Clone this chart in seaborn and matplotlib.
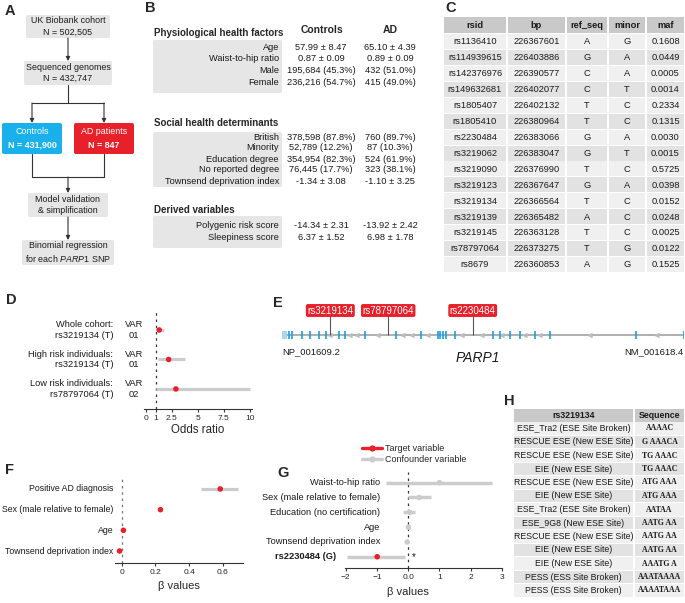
import matplotlib.pyplot as plt
import seaborn as sns
import numpy as np
import pandas as pd
from matplotlib.patches import FancyBboxPatch, Rectangle
from matplotlib.lines import Line2D

# ---------------- data ----------------
# A: cohort flow
flow_names = ['UK Biobank cohort', 'Sequenced genomes', 'Controls', 'AD patients']
flow_n = ['502,505', '432,747', '431,900', '847']
flow_steps = ['Model validation\n& simplification',
              'Binomial regression\nfor each $\\it{PARP1}$ SNP']

# B: cohort characteristics
b_sections = ['Physiological health factors', 'Social health determinants', 'Derived variables']
b_vars = [['Age', 'Waist-to-hip ratio', 'Male', 'Female'],
          ['British', 'Minority', 'Education degree', 'No reported degree',
           'Townsend deprivation index'],
          ['Polygenic risk score', 'Sleepiness score']]
b_controls = [['57.99 ± 8.47', '0.87 ± 0.09', '195,684 (45.3%)', '236,216 (54.7%)'],
              ['378,598 (87.8%)', '52,789 (12.2%)', '354,954 (82.3%)', '76,445 (17.7%)',
               '-1.34 ± 3.08'],
              ['-14.34 ± 2.31', '6.37 ± 1.52']]
b_ad = [['65.10 ± 4.39', '0.89 ± 0.09', '432 (51.0%)', '415 (49.0%)'],
        ['760 (89.7%)', '87 (10.3%)', '524 (61.9%)', '323 (38.1%)', '-1.10 ± 3.25'],
        ['-13.92 ± 2.42', '6.98 ± 1.78']]

# C: PARP1 SNPs
snp_cols = ['rsid', 'bp', 'ref_seq', 'minor', 'maf']
snp_rsid = ['rs1136410', 'rs114939615', 'rs142376976', 'rs149632681', 'rs1805407',
            'rs1805410', 'rs2230484', 'rs3219062', 'rs3219090', 'rs3219123',
            'rs3219134', 'rs3219139', 'rs3219145', 'rs78797064', 'rs8679']
snp_bp = [226367601, 226403886, 226390577, 226402077, 226402132,
          226380964, 226383066, 226383047, 226376990, 226367647,
          226366564, 226365482, 226363128, 226373275, 226360853]
snp_ref = ['A', 'G', 'C', 'C', 'T', 'T', 'G', 'G', 'T', 'G', 'T', 'A', 'T', 'T', 'A']
snp_minor = ['G', 'A', 'A', 'T', 'C', 'C', 'A', 'T', 'C', 'A', 'C', 'C', 'C', 'G', 'G']
snp_maf = ['0.1608', '0.0449', '0.0005', '0.0014', '0.2334', '0.1315', '0.0030', '0.0015',
           '0.5725', '0.0398', '0.0152', '0.0248', '0.0025', '0.0122', '0.1525']

# D: odds ratios
d_groups = ['Whole cohort:\nrs3219134 (T)', 'High risk individuals:\nrs3219134 (T)',
            'Low risk individuals:\nrs78797064 (T)']
d_var = ['VAR\n01', 'VAR\n01', 'VAR\n02']
d_or = [1.3, 2.2, 2.9]
d_lo = [1.05, 1.2, 1.0]
d_hi = [1.8, 3.8, 10.0]

# E: PARP1 gene model (genomic bp)
gene_start, gene_end = 226360961, 226407558
utr_end = 226361541
exons = [226361738, 226362121, 226363281, 226364174, 226365218, 226366100, 226367538,
         226368304, 226370554, 226374220, 226377120, 226379057, 226379324, 226379637,
         226379985, 226381064, 226385437, 226386214, 226387374, 226388534, 226390274,
         226391968, 226401944, 226407558]
strand_marks = [226366761, 226369081, 226369858, 226372364, 226375264, 226376238,
                226378164, 226382037, 226384357, 226386677, 226389381, 226391121,
                226396921, 226404658]
e_snps = ['rs3219134', 'rs78797064', 'rs2230484']

# F: beta values
f_vars = ['Positive AD diagnosis', 'Sex (male relative to female)', 'Age',
          'Townsend deprivation index']
f_beta = [0.585, 0.23, 0.01, -0.013]
f_lo = [0.47, 0.22, 0.004, -0.019]
f_hi = [0.69, 0.24, 0.016, -0.007]

# G: beta values
g_vars = ['Waist-to-hip ratio', 'Sex (male relative to female)', 'Education (no certification)',
          'Age', 'Townsend deprivation index', 'rs2230484 (G)']
g_beta = [1.0, 0.35, 0.05, 0.01, -0.03, -0.99]
g_lo = [-0.71, 0.0, -0.16, -0.03, -0.07, -1.95]
g_hi = [2.68, 0.72, 0.23, 0.05, 0.01, -0.1]
g_role = ['Confounder variable'] * 5 + ['Target variable']

# H: splice motifs
h_motif = ['ESE_Tra2 (ESE Site Broken)', 'RESCUE ESE (New ESE Site)', 'RESCUE ESE (New ESE Site)',
           'EIE (New ESE Site)', 'RESCUE ESE (New ESE Site)', 'EIE (New ESE Site)',
           'ESE_Tra2 (ESE Site Broken)', 'ESE_9G8 (New ESE Site)', 'RESCUE ESE (New ESE Site)',
           'EIE (New ESE Site)', 'EIE (New ESE Site)', 'PESS (ESS Site Broken)',
           'PESS (ESS Site Broken)']
h_seq = ['AAAAC', 'G AAACA', 'TG AAAC', 'TG AAAC', 'ATG AAA', 'ATG AAA', 'AATAA',
         'AATG AA', 'AATG AA', 'AATG AA', 'AAATG A', 'AAATAAAA', 'AAAATAAA']

# ---------------- style ----------------
RED = '#e8202a'
BLUE = '#1ab0ec'
EXON = '#1ba1e2'
GREY_BOX = '#e6e6e6'
CI = '#cccccc'
LINE = '#333333'
TXT = '#1a1a1a'

sns.set_style('white')
plt.rcParams['font.family'] = ['Liberation Sans', 'DejaVu Sans']
plt.rcParams['mathtext.fontset'] = 'custom'
plt.rcParams['mathtext.rm'] = 'Liberation Sans'
plt.rcParams['mathtext.it'] = 'Liberation Sans:italic'
plt.rcParams['mathtext.bf'] = 'Liberation Sans:bold'

W, H = 685, 603
fig = plt.figure(figsize=(W / 100, H / 100), dpi=100)
ax0 = fig.add_axes([0, 0, 1, 1])
ax0.set_xlim(0, W)
ax0.set_ylim(H, 0)
ax0.axis('off')


def px_axes(x0, y0, x1, y1):
    return fig.add_axes([x0 / W, 1 - y1 / H, (x1 - x0) / W, (y1 - y0) / H])


def rbox(x0, y0, x1, y1, fc, r=2.0):
    ax0.add_patch(FancyBboxPatch((x0, y0), x1 - x0, y1 - y0,
                                 boxstyle=f'round,pad=0,rounding_size={r}',
                                 fc=fc, ec='none', zorder=1))


def arrow(x, y0, y1):
    ax0.annotate('', xy=(x, y1), xytext=(x, y0),
                 arrowprops=dict(arrowstyle='-|>', color=LINE, lw=0.8,
                                 mutation_scale=6, shrinkA=0, shrinkB=0))


for lab, x, y in [('A', 5, 15), ('B', 145, 12), ('C', 445, 12), ('D', 6, 304),
                  ('E', 273, 307), ('F', 5, 474), ('G', 277, 477), ('H', 504, 405)]:
    ax0.text(x, y, lab, fontsize=10.5, fontweight='bold', va='baseline', ha='left')

# ---------------- A ----------------
fs = 6.7
grey_boxes = [(26, 15, 110, 38), (24, 61, 112, 85)]
for (x0, y0, x1, y1), name, n in zip(grey_boxes, flow_names[:2], flow_n[:2]):
    rbox(x0, y0, x1, y1, GREY_BOX)
    ax0.text((x0 + x1) / 2, (y0 + y1) / 2, f'{name}\nN = {n}', ha='center', va='center',
             fontsize=6.4, linespacing=1.3, color=TXT)
col_boxes = [(2, 123, 62, 154, BLUE), (74, 123, 134, 154, RED)]
for (x0, y0, x1, y1, c), name, n in zip(col_boxes, flow_names[2:], flow_n[2:]):
    rbox(x0, y0, x1, y1, c)
    cx, cy = (x0 + x1) / 2, (y0 + y1) / 2
    ax0.text(cx, cy - 6.5, name, ha='center', va='center', fontsize=6.4, color='white')
    ax0.text(cx, cy + 6.5, f'N = {n}', ha='center', va='center', fontsize=6.4,
             color='white', fontweight='bold')
for (x0, y0, x1, y1), step in zip([(28, 193, 108, 217), (22, 240, 114, 265)], flow_steps):
    rbox(x0, y0, x1, y1, GREY_BOX)
    ax0.text((x0 + x1) / 2, (y0 + y1) / 2, step, ha='center', va='center',
             fontsize=6.4, linespacing=1.3, color=TXT)
arrow(68, 38, 61)
ax0.plot([68, 68], [85, 103], color=LINE, lw=0.8)
ax0.plot([32, 104], [103, 103], color=LINE, lw=0.8)
arrow(32, 103, 123)
arrow(104, 103, 123)
ax0.plot([32, 32, 104, 104], [154, 177, 177, 154], color=LINE, lw=0.8)
arrow(68, 177, 193)
arrow(68, 217, 240)

# ---------------- B ----------------
ax0.text(322, 30, 'Controls', ha='center', va='center', fontsize=7.5, fontweight='bold')
ax0.text(390, 30, 'AD', ha='center', va='center', fontsize=7.5, fontweight='bold')
sec_y = [33, 123, 210]
box_y = [(40, 93), (132, 187), (216, 248)]
row0 = [47, 137, 225]
step = [11.7, 11, 12]
for s, title in enumerate(b_sections):
    ax0.text(154, sec_y[s], title, ha='left', va='center', fontsize=7, fontweight='bold')
    rbox(153, box_y[s][0], 282, box_y[s][1], GREY_BOX)
    for i, (v, c, a) in enumerate(zip(b_vars[s], b_controls[s], b_ad[s])):
        y = row0[s] + i * step[s]
        ax0.text(279, y, v, ha='right', va='center', fontsize=fs, color=TXT)
        ax0.text(321, y, c, ha='center', va='center', fontsize=fs, color=TXT)
        ax0.text(390, y, a, ha='center', va='center', fontsize=fs, color=TXT)

# ---------------- C ----------------
c_edges = [443, 507, 566, 608, 646, 685]
c_rows = list(zip(snp_rsid, snp_bp, snp_ref, snp_minor, snp_maf))
for j, name in enumerate(snp_cols):
    ax0.add_patch(Rectangle((c_edges[j] + 0.6, 17), c_edges[j + 1] - c_edges[j] - 1.2, 16,
                            fc='#c9c9c9', ec='none'))
    ax0.text((c_edges[j] + c_edges[j + 1]) / 2, 25, name, ha='center', va='center',
             fontsize=fs, fontweight='bold', color=TXT)
for i, row in enumerate(c_rows):
    y0 = 34 + i * 15.93
    fc = '#f0f0f0' if i % 2 == 0 else '#e2e2e2'
    for j, val in enumerate(row):
        ax0.add_patch(Rectangle((c_edges[j] + 0.6, y0), c_edges[j + 1] - c_edges[j] - 1.2,
                                15.0, fc=fc, ec='none'))
        ax0.text((c_edges[j] + c_edges[j + 1]) / 2, y0 + 7.8, str(val), ha='center',
                 va='center', fontsize=fs, color=TXT)

# ---------------- H ----------------
h_edges = [513, 634, 685]
for j, name in enumerate(['rs3219134', 'Sequence']):
    ax0.add_patch(Rectangle((h_edges[j] + 0.6, 409), h_edges[j + 1] - h_edges[j] - 1.2, 12.5,
                            fc='#c9c9c9', ec='none'))
    ax0.text((h_edges[j] + h_edges[j + 1]) / 2, 415.3, name, ha='center', va='center',
             fontsize=6.3, fontweight='bold', color=TXT)
for i, (m, sq) in enumerate(zip(h_motif, h_seq)):
    y0 = 422 + i * 13.5
    fc = '#f0f0f0' if i % 2 == 0 else '#e2e2e2'
    for j in range(2):
        ax0.add_patch(Rectangle((h_edges[j] + 0.6, y0), h_edges[j + 1] - h_edges[j] - 1.2,
                                12.6, fc=fc, ec='none'))
    ax0.text((h_edges[0] + h_edges[1]) / 2, y0 + 6.5, m, ha='center', va='center',
             fontsize=6.3, color=TXT)
    ax0.text((h_edges[1] + h_edges[2]) / 2, y0 + 6.5, sq, ha='center', va='center',
             fontsize=5.6, fontweight='bold', color=TXT, family='Liberation Serif')

# ---------------- D ----------------
axD = px_axes(144, 312, 252, 409)
axD.hlines(range(len(d_or)), d_lo, d_hi, color=CI, lw=2.3, zorder=1)
sns.scatterplot(x=d_or, y=list(range(len(d_or))), ax=axD, color=RED, s=16,
                edgecolor='none', zorder=3)
axD.axvline(1, color=LINE, lw=0.9, ls=(0, (2, 3)), zorder=0)
axD.set_xlim(-0.16, 10.2)
axD.set_ylim(2.68, -0.61)
axD.set_xticks([0, 1, 2.5, 5, 7.5, 10], labels=['0', '1', '2.5', '5', '7.5', '10'])
axD.set_yticks([])
for i, (g, v) in enumerate(zip(d_groups, d_var)):
    axD.text(-0.287, i, g, transform=axD.get_yaxis_transform(), ha='right', va='center',
             multialignment='right', fontsize=fs, linespacing=1.2, color=TXT)
    axD.text(-0.093, i, v, transform=axD.get_yaxis_transform(), ha='center', va='center',
             multialignment='center', fontsize=fs, linespacing=1.2, color=TXT)
axD.set_xlabel('Odds ratio', fontsize=8.3, labelpad=2)

# ---------------- E ----------------
axE = px_axes(282, 300, 684, 345)
axE.set_xlim(gene_start, gene_end)
axE.set_ylim(45, 0)
axE.axis('off')
axE.hlines(35, gene_start, gene_end, color='#9a9a9a', lw=1.1, zorder=1)
axE.add_patch(Rectangle((gene_start, 31), utr_end - gene_start, 8, fc='#a9d6f2', ec='none',
                        zorder=2))
axE.vlines(exons, 31, 39, color=EXON, lw=1.2, zorder=3)
axE.plot(strand_marks, [35] * len(strand_marks), ls='none', marker=8, ms=3.5,
         color='#bdbdbd', zorder=2)
for rs in e_snps:
    pos = snp_bp[snp_rsid.index(rs)]
    axE.vlines(pos, 15, 35, color='#555555', lw=0.8, zorder=2)
    axE.text(pos, 10.5, rs, ha='center', va='center', fontsize=7, color='white',
             bbox=dict(boxstyle='round,pad=0.15,rounding_size=0.2', fc=RED, ec='none'))
ax0.text(282, 352, 'NP_001609.2', ha='left', va='center', fontsize=6.8, color=TXT)
ax0.text(684, 352, 'NM_001618.4', ha='right', va='center', fontsize=6.8, color=TXT)
ax0.text(478, 358, 'PARP1', ha='center', va='center', fontsize=10, style='italic', color=TXT)

# ---------------- F ----------------
axF = px_axes(115, 478, 243, 563)
axF.hlines(range(len(f_beta)), f_lo, f_hi, color=CI, lw=2.3, zorder=1)
sns.scatterplot(x=f_beta, y=list(range(len(f_beta))), ax=axF, color=RED, s=16,
                edgecolor='none', zorder=3)
axF.axvline(0, color='#777777', lw=0.9, ls=(0, (2, 3)), zorder=0)
axF.set_xlim(-0.04, 0.72)
axF.set_ylim(3.58, -0.53)
axF.set_xticks([0, 0.2, 0.4, 0.6], labels=['0', '0.2', '0.4', '0.6'])
axF.set_yticks([])
for i, v in enumerate(f_vars):
    axF.text(-0.012, i, v, transform=axF.get_yaxis_transform(), ha='right', va='center',
             fontsize=6.3, color=TXT)
axF.set_xlabel('β values', fontsize=8, labelpad=4)

# ---------------- G ----------------
g_df = pd.DataFrame({'var': g_vars, 'beta': g_beta, 'lo': g_lo, 'hi': g_hi, 'role': g_role,
                     'row': range(len(g_vars))})
palette = {'Target variable': RED, 'Confounder variable': CI}
axG = px_axes(345, 472, 502, 568)
axG.hlines(g_df['row'], g_df['lo'], g_df['hi'], color=CI, lw=2.5, zorder=1)
sns.scatterplot(data=g_df, x='beta', y='row', hue='role', palette=palette, ax=axG, s=16,
                edgecolor='none', zorder=3, legend=False)
axG.axvline(0, color=LINE, lw=0.9, ls=(0, (2, 3)), zorder=0)
axG.set_xlim(-2.02, 3.0)
axG.set_ylim(5.76, -0.72)
axG.set_xticks([-2, -1, 0, 1, 2, 3], labels=['\u22122', '\u22121', '0.0', '1', '2', '3'])
axG.set_yticks([])
axG.set_ylabel('')
for i, v in enumerate(g_vars):
    target = g_role[i] == 'Target variable'
    axG.text(-0.057 if target else 0.223, i, v, transform=axG.get_yaxis_transform(),
             ha='right', va='center', fontsize=fs, color=TXT,
             fontweight='bold' if target else 'normal')
axG.text(0.115, 5, '*', ha='left', va='center', fontsize=7, color=TXT)
axG.set_xlabel('β values', fontsize=8, labelpad=4)
axG.xaxis.set_label_coords((408 - 345) / 157, -0.2)
handles = [Line2D([0], [0], color=palette[k], lw=2.4, marker='o', ms=4.5, mec='none')
           for k in ['Target variable', 'Confounder variable']]
fig.legend(handles, ['Target variable', 'Confounder variable'], loc='upper left',
           bbox_to_anchor=(362 / W, 1 - 444 / H), frameon=False, fontsize=6.5,
           handlelength=2.2, handletextpad=0.4, labelspacing=0.2, borderpad=0,
           borderaxespad=0)

for ax in [axD, axF, axG]:
    for sp in ['left', 'top', 'right']:
        ax.spines[sp].set_visible(False)
    ax.spines['bottom'].set_color(LINE)
    ax.spines['bottom'].set_linewidth(0.8)
    ax.tick_params(axis='x', labelsize=6, length=2.5, width=0.8, color=LINE, pad=1.5,
                   bottom=True)
    ax.set_facecolor('none')

fig.savefig('out.png', dpi=100)
